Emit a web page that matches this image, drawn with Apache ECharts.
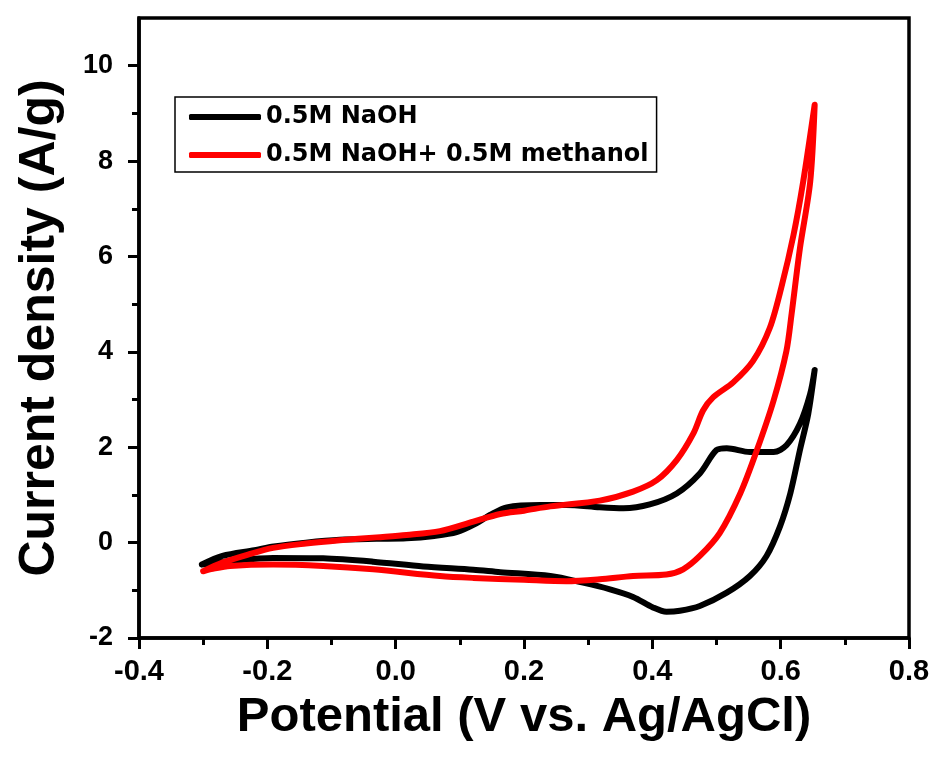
<!DOCTYPE html>
<html>
<head>
<meta charset="utf-8">
<script src="https://cdn.jsdelivr.net/npm/echarts@6/dist/echarts.min.js"></script>
<style>
html,body{margin:0;padding:0;background:#fff;}
#c{width:936px;height:769px;}
</style>
</head>
<body>
<div id="c"></div>
<script>
// ---- data ----
const seriesNames = ['0.5M NaOH', '0.5M NaOH+ 0.5M methanol'];
const seriesColors = ['#000000', '#ff0000'];

// 0.5M NaOH loop: anodic scan then cathodic return
const naohPotential = [-0.302,-0.27,-0.22,-0.19,-0.14,-0.087,-0.03,0.017,0.06,0.095,0.125,0.147,0.173,0.225,0.266,0.318,0.355,0.396,0.438,0.474,0.500,0.516,0.552,0.589,0.609,0.630,0.646,0.653,
  0.643,0.630,0.615,0.599,0.578,0.552,0.516,0.474,0.443,0.422,0.401,0.370,0.334,0.292,0.241,0.163,0.121,0.043,-0.035,-0.113,-0.191,-0.253,-0.285,-0.302];
const naohCurrent = [-0.46,-0.28,-0.16,-0.08,0.00,0.06,0.08,0.09,0.14,0.22,0.40,0.58,0.74,0.79,0.79,0.74,0.72,0.80,1.03,1.45,1.94,1.98,1.90,1.90,2.04,2.49,3.12,3.62,
  2.70,1.94,1.03,0.34,-0.28,-0.70,-1.05,-1.33,-1.43,-1.45,-1.36,-1.14,-0.98,-0.84,-0.70,-0.62,-0.57,-0.50,-0.40,-0.33,-0.32,-0.38,-0.44,-0.46];

// 0.5M NaOH + 0.5M methanol loop
const meohPotential = [-0.300,-0.27,-0.23,-0.191,-0.14,-0.087,-0.03,0.017,0.069,0.121,0.163,0.200,0.241,0.318,0.370,0.407,0.438,0.464,0.479,0.495,0.526,0.557,0.583,0.601,0.620,0.635,0.653,
  0.646,0.630,0.617,0.609,0.589,0.563,0.537,0.505,0.474,0.448,0.422,0.370,0.318,0.266,0.200,0.121,0.069,-0.035,-0.113,-0.191,-0.258,-0.285,-0.300];
const meohCurrent = [-0.60,-0.42,-0.25,-0.11,-0.02,0.05,0.11,0.16,0.24,0.44,0.60,0.67,0.76,0.88,1.07,1.31,1.73,2.29,2.77,3.05,3.36,3.81,4.50,5.35,6.45,7.56,9.18,
  7.56,6.17,4.79,4.02,2.98,1.94,1.03,0.20,-0.28,-0.56,-0.67,-0.70,-0.77,-0.81,-0.78,-0.74,-0.70,-0.56,-0.49,-0.46,-0.49,-0.55,-0.60];

const yMajorTicks = [-2, 0, 2, 4, 6, 8, 10];
const yMinorTicks = [-1, 1, 3, 5, 7, 9];
const xTitle = 'Potential (V vs. Ag/AgCl)';
const yTitle = 'Current density (A/g)';

// ---- build ----
function pairs(xs, ys) { return xs.map((x, i) => [x, ys[i]]); }
const loops = [pairs(naohPotential, naohCurrent), pairs(meohPotential, meohCurrent)];

const FONT = 'Liberation Sans, Arial, sans-serif';
const chart = echarts.init(document.getElementById('c'), null, {renderer: 'canvas'});
chart.setOption({
  backgroundColor: '#ffffff',
  animation: false,
  grid: {left: 139, right: 27, top: 18, bottom: 131, show: true, borderColor: '#000', borderWidth: 3.5, backgroundColor: 'transparent'},
  legend: {
    orient: 'vertical', left: 175, top: 97,
    data: seriesNames.map(n => ({name: n, icon: 'roundRect'})),
    itemWidth: 72, itemHeight: 6, itemGap: 14,
    padding: [8, 8, 5, 14],
    borderColor: '#000', borderWidth: 1.5,
    textStyle: {fontFamily: 'DejaVu Sans', fontWeight: 'bold', fontSize: 24, color: '#000'},
    selectedMode: false
  },
  xAxis: {
    type: 'value', min: -0.4, max: 0.8, interval: 0.2,
    name: xTitle, nameLocation: 'middle', nameGap: 55,
    nameTextStyle: {fontFamily: FONT, fontWeight: 'bold', fontSize: 49, color: '#000'},
    axisLine: {show: true, onZero: false, lineStyle: {color: '#000', width: 3.5}},
    axisTick: {show: true, inside: false, length: 11, lineStyle: {color: '#000', width: 3}},
    minorTick: {show: true, splitNumber: 2, length: 7, lineStyle: {color: '#000', width: 3}},
    splitLine: {show: false},
    axisLabel: {margin: 19, fontFamily: FONT, fontWeight: 'bold', fontSize: 29, color: '#000',
      formatter: v => v.toFixed(1)}
  },
  yAxis: [{
    type: 'value', min: -2, max: 11, interval: 2, position: 'left',
    name: yTitle, nameLocation: 'middle', nameGap: 74,
    nameTextStyle: {fontFamily: FONT, fontWeight: 'bold', fontSize: 50, color: '#000'},
    axisLine: {show: true, onZero: false, lineStyle: {color: '#000', width: 3.5}},
    axisTick: {show: true, inside: false, length: 11, customValues: yMajorTicks, lineStyle: {color: '#000', width: 3}},
    splitLine: {show: false},
    axisLabel: {margin: 26, customValues: yMajorTicks, fontFamily: FONT, fontWeight: 'bold', fontSize: 27, color: '#000'}
  }, {
    type: 'value', min: -2, max: 11, position: 'left', offset: 0,
    axisLine: {show: false, onZero: false},
    axisTick: {show: true, inside: false, length: 7, customValues: yMinorTicks, lineStyle: {color: '#000', width: 3}},
    axisLabel: {show: false},
    splitLine: {show: false}
  }],
  series: loops.map((d, i) => ({
    name: seriesNames[i], type: 'line', data: d,
    smooth: 0.3, showSymbol: false, symbol: 'none',
    lineStyle: {color: seriesColors[i], width: 6, cap: 'round', join: 'round'},
    itemStyle: {color: seriesColors[i]},
    z: 2 + i
  }))
});
</script>
</body>
</html>
